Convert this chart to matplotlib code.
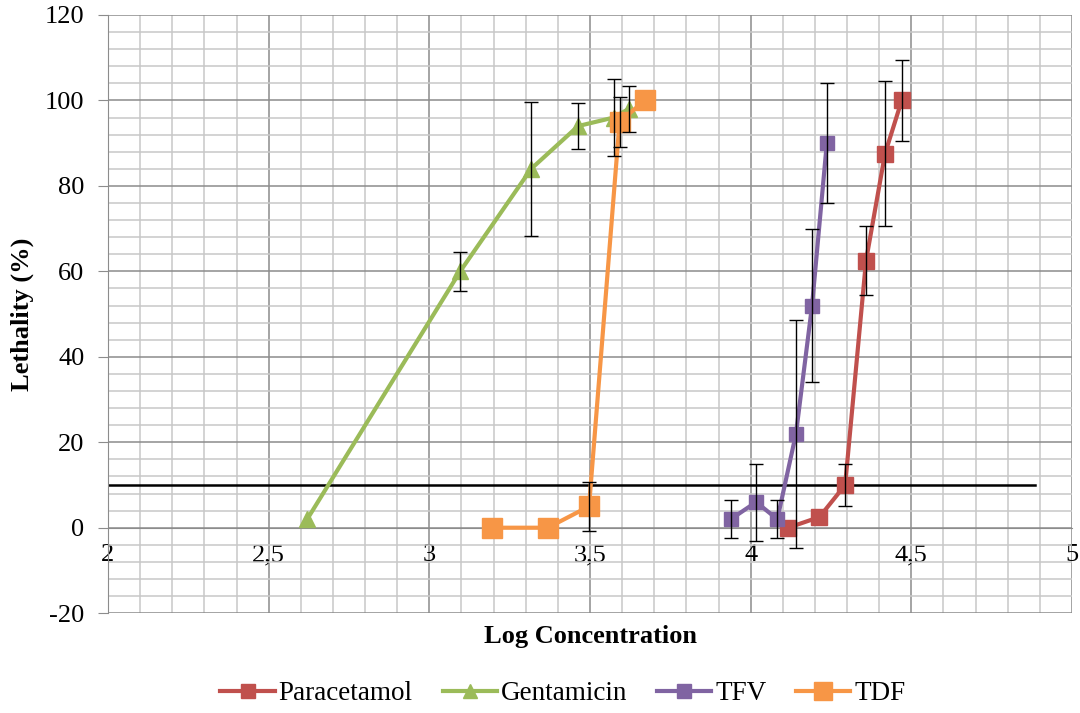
import numpy as np
import matplotlib.pyplot as plt
from matplotlib.ticker import MultipleLocator, FuncFormatter

plt.rcParams['font.family'] = ['Liberation Serif', 'DejaVu Serif']
plt.rcParams['axes.unicode_minus'] = False

# log concentration, lethality (%) and error (+/-) per compound
para_x = [4.117, 4.214, 4.294, 4.359, 4.418, 4.470]
para_y = [0, 2.5, 10, 62.5, 87.5, 100]
para_err = [0, 0, 5, 8, 17, 9.5]

gent_x = [2.62, 3.096, 3.317, 3.463, 3.574, 3.620]
gent_y = [2, 60, 84, 94, 96, 98]
gent_err = [0, 4.5, 15.7, 5.4, 9, 5.4]

tfv_x = [3.938, 4.017, 4.083, 4.141, 4.191, 4.237]
tfv_y = [2, 6, 2, 22, 52, 90]
tfv_err = [4.5, 9, 4.4, 26.7, 18, 14]

tdf_x = [3.195, 3.369, 3.497, 3.592, 3.671]
tdf_y = [0, 0, 5, 95, 100]
tdf_err = [0, 0, 5.7, 5.8, 0]

threshold = 10

fig = plt.figure(figsize=(10.8, 7.13), dpi=100)
ax = fig.add_axes([0.1, 0.14, 0.8926, 0.839])

series = [
    ('Paracetamol', para_x, para_y, para_err, '#C0504D', 's', 11.5),
    ('Gentamicin', gent_x, gent_y, gent_err, '#9BBB59', '^', 11),
    ('TFV', tfv_x, tfv_y, tfv_err, '#8064A2', 's', 10.5),
    ('TDF', tdf_x, tdf_y, tdf_err, '#F79646', 's', 14),
]
for name, xs, ys, es, col, mk, ms in series:
    ax.plot(xs, ys, color=col, lw=3, marker=mk, ms=ms, label=name, zorder=3)
    xe = [x for x, e in zip(xs, es) if e > 0]
    ye = [y for y, e in zip(ys, es) if e > 0]
    ee = [e for e in es if e > 0]
    ax.errorbar(xe, ye, yerr=ee, fmt='none', ecolor='black', elinewidth=1,
                capsize=4.7, capthick=1, zorder=4)

ax.plot([2, 4.885], [threshold, threshold], color='black', lw=1.8, zorder=2)

ax.set_xlim(2, 5)
ax.set_ylim(-20, 120)
ax.xaxis.set_major_locator(MultipleLocator(0.5))
ax.xaxis.set_minor_locator(MultipleLocator(0.1))
ax.yaxis.set_major_locator(MultipleLocator(20))
ax.yaxis.set_minor_locator(MultipleLocator(4))
ax.xaxis.set_major_formatter(FuncFormatter(lambda v, p: ('%g' % v).replace('.', ',')))

ax.grid(which='major', color='#8c8c8c', lw=1.1, zorder=0)
ax.grid(which='minor', color='#c8c8c8', lw=1.1, zorder=0)
ax.set_axisbelow(True)

for s in ['top', 'right']:
    ax.spines[s].set_visible(False)
ax.spines['left'].set_color('#8c8c8c')
ax.spines['bottom'].set_position(('data', 0))
ax.spines['bottom'].set_color('#8c8c8c')
ax.tick_params(axis='x', which='both', length=0, pad=12, labelsize=19)
ax.tick_params(axis='y', which='major', length=7, color='#8c8c8c', pad=10, labelsize=19)
ax.tick_params(axis='y', which='minor', length=0)

ax.set_xlabel('Log Concentration', fontsize=19, fontweight='bold')
ax.xaxis.set_label_coords(0.5, -0.02)
ax.set_ylabel('Lethality (%)', fontsize=19, fontweight='bold')
ax.yaxis.set_label_coords(-0.077, 0.5)

ax.legend(loc='center', bbox_to_anchor=(0.472, -0.135), ncol=4, frameon=False,
          fontsize=19.5, handlelength=2.0, columnspacing=1.1, handletextpad=0.15,
          markerscale=0.9)

fig.savefig('out.png', dpi=100)
